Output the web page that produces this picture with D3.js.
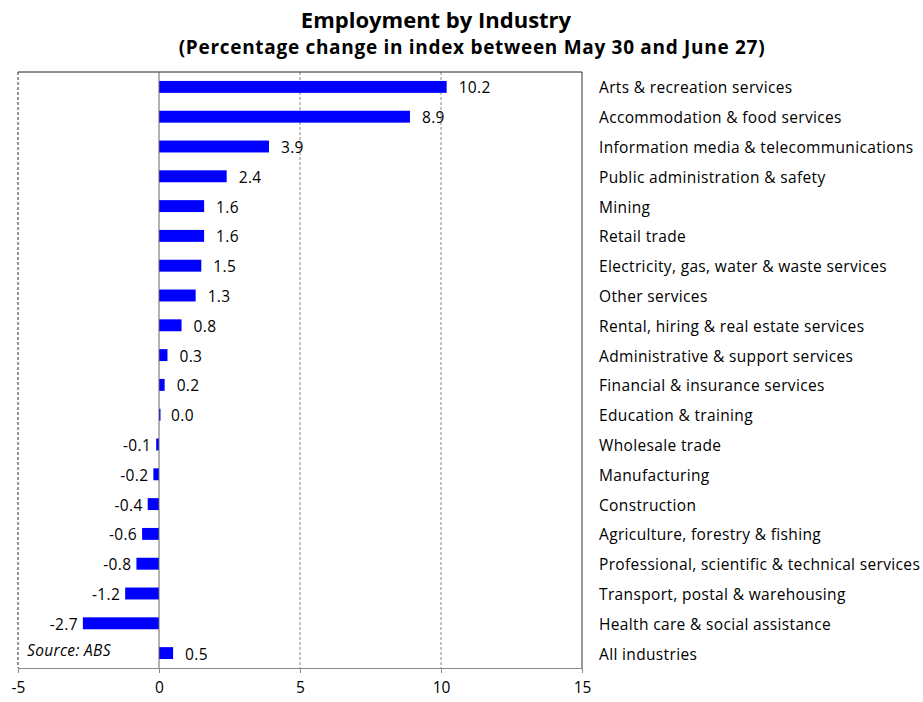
<!DOCTYPE html>
<html>
<head>
<meta charset="utf-8">
<script src="https://cdn.jsdelivr.net/npm/d3@7"></script>
<style>
  body { margin: 0; background: #fff; }
  svg { font-family: "Open Sans", "Noto Sans", sans-serif; }
</style>
</head>
<body>
<svg width="923" height="702"></svg>
<script>
const industries = [
  "Arts & recreation services",
  "Accommodation & food services",
  "Information media & telecommunications",
  "Public administration & safety",
  "Mining",
  "Retail trade",
  "Electricity, gas, water & waste services",
  "Other services",
  "Rental, hiring & real estate services",
  "Administrative & support services",
  "Financial & insurance services",
  "Education & training",
  "Wholesale trade",
  "Manufacturing",
  "Construction",
  "Agriculture, forestry & fishing",
  "Professional, scientific & technical services",
  "Transport, postal & warehousing",
  "Health care & social assistance",
  "All industries"
];
const changes = [10.2, 8.9, 3.9, 2.4, 1.6, 1.6, 1.5, 1.3, 0.8, 0.3, 0.2, 0.0, -0.1, -0.2, -0.4, -0.6, -0.8, -1.2, -2.7, 0.5];
const xTicks = [-5, 0, 5, 10, 15];

const data = industries.map((name, i) => ({ name, value: changes[i] }));

const plot = { left: 18, right: 582, top: 72, bottom: 668 };
const svg = d3.select("svg");
const fmt = v => d3.format(".1f")(v).replace("\u2212", "-");

const x = d3.scaleLinear().domain([-5, 15]).range([plot.left, plot.right]);
const y = d3.scaleBand().domain(industries).range([plot.top, plot.bottom]).paddingInner(0.6).paddingOuter(0.3);

// titles
svg.append("text").attr("x", 436).attr("y", 28).attr("text-anchor", "middle")
  .style("font-size", "22px").style("font-weight", "bold").text("Employment by Industry");
svg.append("text").attr("x", 472).attr("y", 54).attr("text-anchor", "middle")
  .style("font-size", "19px").style("font-weight", "bold").style("letter-spacing", "0.7px")
  .text("(Percentage change in index between May 30 and June 27)");

// dashed gridlines
svg.append("g").selectAll("line").data(xTicks.filter(t => t !== 0))
  .join("line")
  .attr("x1", d => x(d)).attr("x2", d => x(d))
  .attr("y1", plot.top).attr("y2", plot.bottom)
  .attr("stroke", d => (d === -5 || d === 15) ? "#333" : "#888")
  .attr("stroke-dasharray", d => (d === 15) ? null : "3,2")
  .attr("stroke-width", 1);

// top border
svg.append("line").attr("x1", plot.left).attr("x2", plot.right).attr("y1", plot.top).attr("y2", plot.top)
  .attr("stroke", "#222").attr("stroke-width", 1);

// bars
svg.append("g").selectAll("rect").data(data)
  .join("rect")
  .attr("x", d => x(Math.min(0, d.value)))
  .attr("width", d => Math.max(1.5, Math.abs(x(d.value) - x(0))))
  .attr("y", d => y(d.name))
  .attr("height", y.bandwidth())
  .attr("fill", "#0000ff");

// zero line
svg.append("line").attr("x1", x(0)).attr("x2", x(0)).attr("y1", plot.top).attr("y2", plot.bottom)
  .attr("stroke", "#666").attr("stroke-width", 1);

const labelStyle = sel => sel.style("font-size", "15.5px").style("letter-spacing", "0.35px");

// value labels
svg.append("g").selectAll("text").data(data)
  .join("text")
  .attr("x", d => d.value < 0 ? x(d.value) - 5 : x(d.value) + 12)
  .attr("y", d => y(d.name) + y.bandwidth() / 2 + 1)
  .attr("dy", "0.35em")
  .attr("text-anchor", d => d.value < 0 ? "end" : "start")
  .call(labelStyle)
  .text(d => fmt(d.value));

// category labels
svg.append("g").selectAll("text").data(data)
  .join("text")
  .attr("x", 599)
  .attr("y", d => y(d.name) + y.bandwidth() / 2 + 1)
  .attr("dy", "0.35em")
  .call(labelStyle)
  .text(d => d.name);

// x axis
const axis = svg.append("g").attr("transform", `translate(0,${plot.bottom})`)
  .call(d3.axisBottom(x).tickValues(xTicks).tickFormat(d => String(d)).tickSize(5).tickPadding(9));
axis.select(".domain").attr("stroke", "#888");
axis.selectAll(".tick line").attr("stroke", "#888");
axis.selectAll(".tick text").style("font-size", "15.5px").style("font-family", "'Open Sans', sans-serif").attr("fill", "#000");

// source note
svg.append("text").attr("x", 27).attr("y", 656)
  .call(labelStyle).style("font-style", "italic").text("Source: ABS");
</script>
</body>
</html>
